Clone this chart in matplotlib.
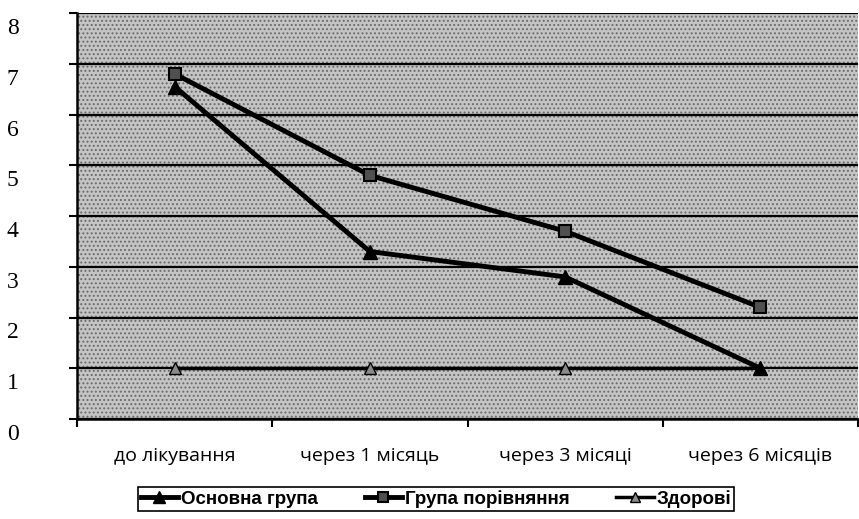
import matplotlib
matplotlib.use('Agg')
import matplotlib.pyplot as plt
import matplotlib.transforms as mtransforms

# дані
categories = ['до лікування', 'через 1 місяць', 'через 3 місяці', 'через 6 місяців']
osnovna = [6.55, 3.3, 2.8, 1.0]
porivn = [6.8, 4.8, 3.7, 2.2]
zdorovi = [1.0, 1.0, 1.0, 1.0]
y_ticks = [0, 1, 2, 3, 4, 5, 6, 7, 8]

plt.rcParams['hatch.linewidth'] = 0.9

fig = plt.figure(figsize=(8.59, 5.19), dpi=100, facecolor='white')
ax = fig.add_axes([77 / 859, 1 - 419 / 519, 781 / 859, 406 / 519])
ax.set_facecolor('#c4c4c4')
ax.patch.set_hatch('....')
ax.patch.set_edgecolor('#6a6a6a')

x = list(range(len(categories)))

ax.set_axisbelow(True)
ax.grid(axis='y', color='black', linewidth=1.6)

ax.plot(x, zdorovi, color='black', linewidth=2.5, marker='^', markersize=9,
        markerfacecolor='#8a8a8a', markeredgecolor='black', label='Здорові', zorder=3)
ax.plot(x, osnovna, color='black', linewidth=3.5, marker='^', markersize=10,
        markerfacecolor='black', label='Основна група', zorder=4)
ax.plot(x, porivn, color='black', linewidth=3.5, marker='s', markersize=9,
        markerfacecolor='#505050', markeredgecolor='black', markeredgewidth=1.5,
        label='Група порівняння', zorder=4)

ax.set_xlim(-0.5, 3.5)
ax.set_ylim(0, 8)

ax.spines['top'].set_visible(False)
ax.spines['right'].set_visible(False)
ax.spines['left'].set_linewidth(1.8)
ax.spines['bottom'].set_linewidth(1.8)

ax.set_yticks(y_ticks)
ax.set_yticklabels([str(v) for v in y_ticks], fontname='Liberation Serif', fontsize=17)
ax.tick_params(axis='y', direction='out', length=6, width=1.5, pad=36)
# підписи осі Y трохи зсунуті вниз, як на скані
offset = mtransforms.ScaledTranslation(0, -13 / 100, fig.dpi_scale_trans)
for lbl in ax.get_yticklabels():
    lbl.set_transform(lbl.get_transform() + offset)

ax.set_xticks([-0.5, 0.5, 1.5, 2.5, 3.5])
ax.set_xticklabels([])
ax.set_xticks(x, minor=True)
ax.set_xticklabels(categories, minor=True, fontname='Open Sans', fontsize=14)
ax.tick_params(axis='x', which='major', direction='out', length=6, width=1.5)
ax.tick_params(axis='x', which='minor', length=0, pad=20)

handles, labels = ax.get_legend_handles_labels()
order = [1, 2, 0]
leg = fig.legend([handles[i] for i in order], [labels[i] for i in order],
                 loc='center', bbox_to_anchor=(436 / 859, 1 - 499 / 519), ncol=3,
                 fancybox=False, edgecolor='black', framealpha=1, borderpad=0.15,
                 handlelength=2.0, columnspacing=2.5, handletextpad=0.15,
                 borderaxespad=0.0, markerscale=0.8,
                 prop={'family': 'Liberation Sans', 'size': 13.5, 'weight': 'bold'})
leg.get_frame().set_linewidth(1.2)

fig.savefig('out.png', dpi=100)
